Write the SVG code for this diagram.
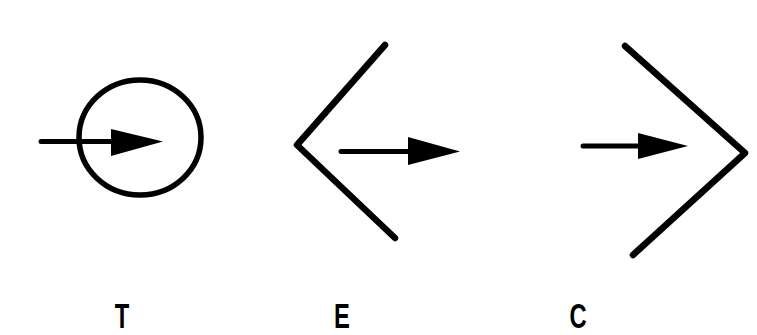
<svg xmlns="http://www.w3.org/2000/svg" width="757" height="335" viewBox="0 0 757 335">
<style>
.ln{fill:none;stroke:#000;stroke-width:6.5;stroke-linecap:round;stroke-linejoin:round}
.sh{stroke:#000;stroke-width:5;stroke-linecap:round;fill:none}
.hd{fill:#000}
.lb{font-family:"Liberation Sans",sans-serif;font-size:35px;font-weight:bold;fill:#000;text-anchor:middle}
</style>
<rect width="757" height="335" fill="#fff"/>
<g id="T">
<ellipse cx="140" cy="137.5" rx="61" ry="57.5" fill="none" stroke="#000" stroke-width="5.5"/>
<line class="sh" x1="41" y1="141.5" x2="114" y2="141.5"/>
<polygon class="hd" points="111,129 163,141.5 111,156"/>
<text class="lb" transform="translate(122,328) scale(0.68,1)">T</text>
</g>
<g id="E">
<polyline class="ln" points="385,45 297,145 395,238"/>
<line class="sh" x1="341" y1="151.5" x2="410" y2="151.5"/>
<polygon class="hd" points="408,137 460,151.5 408,165"/>
<text class="lb" transform="translate(342,328) scale(0.68,1)">E</text>
</g>
<g id="C">
<polyline class="ln" points="625,46 745,153 633,255"/>
<line class="sh" x1="583" y1="146" x2="640" y2="146"/>
<polygon class="hd" points="638,133 688,146 638,159"/>
<text class="lb" transform="translate(578,328) scale(0.68,1)">C</text>
</g>
</svg>
